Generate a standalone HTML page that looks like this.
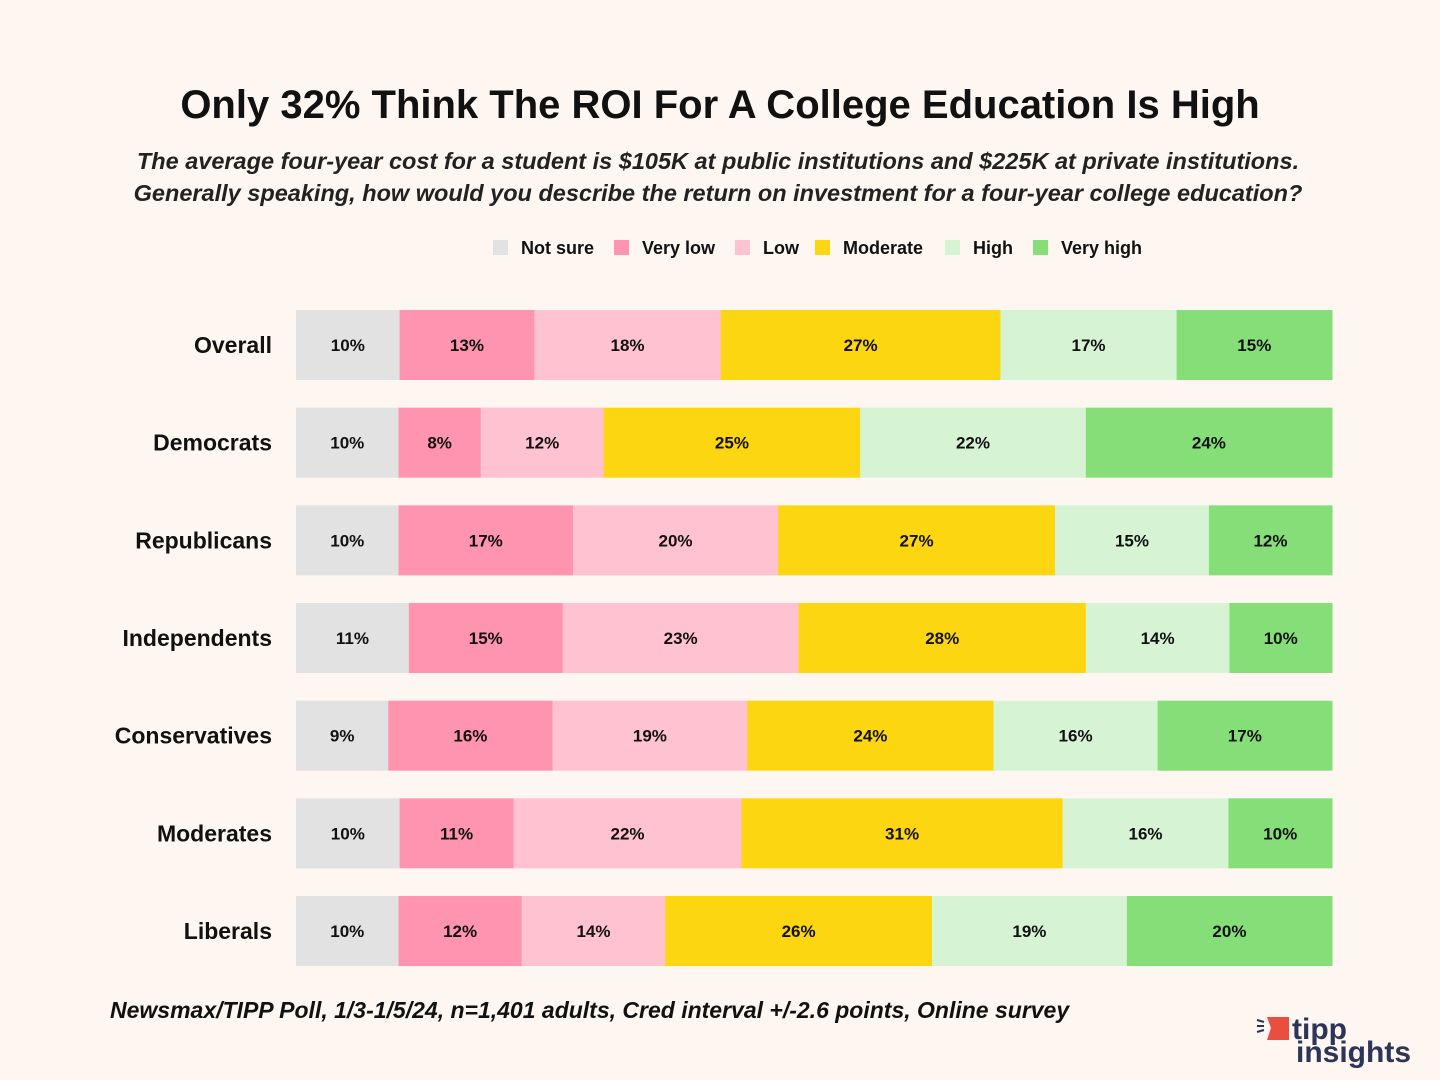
<!DOCTYPE html>
<html><head><meta charset="utf-8">
<style>
body{margin:0;background:#fdf6f1;font-family:"Liberation Sans",sans-serif;}
#wrap{position:relative;width:1440px;height:1080px;overflow:hidden;background:#fdf6f1;}
.t{position:absolute;white-space:nowrap;}
</style></head><body>
<div id="wrap">
<div class="t" style="left:0;width:1440px;text-align:center;top:83px;font-size:40px;font-weight:bold;color:#111;">Only 32% Think The ROI For A College Education Is High</div>
<div class="t" style="left:0;width:1436px;text-align:center;top:145px;font-size:23.5px;font-style:italic;font-weight:bold;color:#222;line-height:32px;">The average four-year cost for a student is $105K at public institutions and $225K at private institutions.<br>Generally speaking, how would you describe the return on investment for a four-year college education?</div>
<svg id="svg" width="1440" height="1080" style="position:absolute;left:0;top:0"></svg>
<div class="t" style="left:110px;top:997px;font-size:23px;font-style:italic;font-weight:bold;color:#111;">Newsmax/TIPP Poll, 1/3-1/5/24, n=1,401 adults, Cred interval +/-2.6 points, Online survey</div>
<div style="position:absolute;left:1254px;top:1012px;">
<svg width="170" height="60">
<g stroke="#2c3557" stroke-width="2"><line x1="3" y1="8" x2="10" y2="10"/><line x1="3" y1="14" x2="10" y2="14"/><line x1="3" y1="20" x2="10" y2="18"/></g>
<polygon points="13,5 35,5 35,28 13,28 17,16" fill="#e94e3f"/>
<text x="38" y="27" font-family="Liberation Sans" font-weight="bold" font-size="30" fill="#2c3557">tipp</text>
<text x="42" y="50" font-family="Liberation Sans" font-weight="bold" font-size="30" fill="#2c3557">insights</text>
</svg></div>
</div>
<script>
const categories=["Overall","Democrats","Republicans","Independents","Conservatives","Moderates","Liberals"];
const seriesNames=["Not sure","Very low","Low","Moderate","High","Very high"];
const notSure=[10,10,10,11,9,10,10];
const veryLow=[13,8,17,15,16,11,12];
const low=[18,12,20,23,19,22,14];
const moderate=[27,25,27,28,24,31,26];
const high=[17,22,15,14,16,16,19];
const veryHigh=[15,24,12,10,17,10,20];
const series=[notSure,veryLow,low,moderate,high,veryHigh];
const colors=["#e2e2e2","#fe94ad","#ffc2d0","#fdd612","#d6f4d4","#86de78"];
const svg=document.getElementById('svg');
const NS="http://www.w3.org/2000/svg";
const x0=296,x1=1332,top0=310,step=97.67,bh=70;
function mk(t,a){const e=document.createElementNS(NS,t);for(const k in a)e.setAttribute(k,a[k]);svg.appendChild(e);return e;}
function xs(v,tot){return (x1-x0)*v/tot;}
categories.forEach((c,i)=>{
  const y=top0+i*step;
  const tot=series.reduce((s,a)=>s+a[i],0);
  const lab=mk('text',{x:272,y:y+bh/2+8,'text-anchor':'end','font-size':23,'font-weight':'bold',fill:'#111','font-family':'Liberation Sans'});
  lab.textContent=c;
  
  
  let x=x0;
  series.forEach((s,j)=>{
    const w=xs(s[i],tot);
    const r=mk('rect',{x:x,y:y,width:w+0.5,height:bh,fill:colors[j]});
    
    
    const t=mk('text',{x:x+w/2,y:y+bh/2+6,'text-anchor':'middle','font-size':17,'font-weight':'bold',fill:'#111','font-family':'Liberation Sans'});
    t.textContent=s[i]+'%';
    
    
    x+=w;
  });
});
const lx=[493,614,735,815,945,1033];
seriesNames.forEach((n,j)=>{
  const r=mk('rect',{x:lx[j],y:240,width:15,height:15,fill:colors[j]});
  
  
  const t=mk('text',{x:lx[j]+28,y:254,'font-size':18,'font-weight':'bold',fill:'#111','font-family':'Liberation Sans'});
  t.textContent=n;
  
  
});
</script>
</body></html>
